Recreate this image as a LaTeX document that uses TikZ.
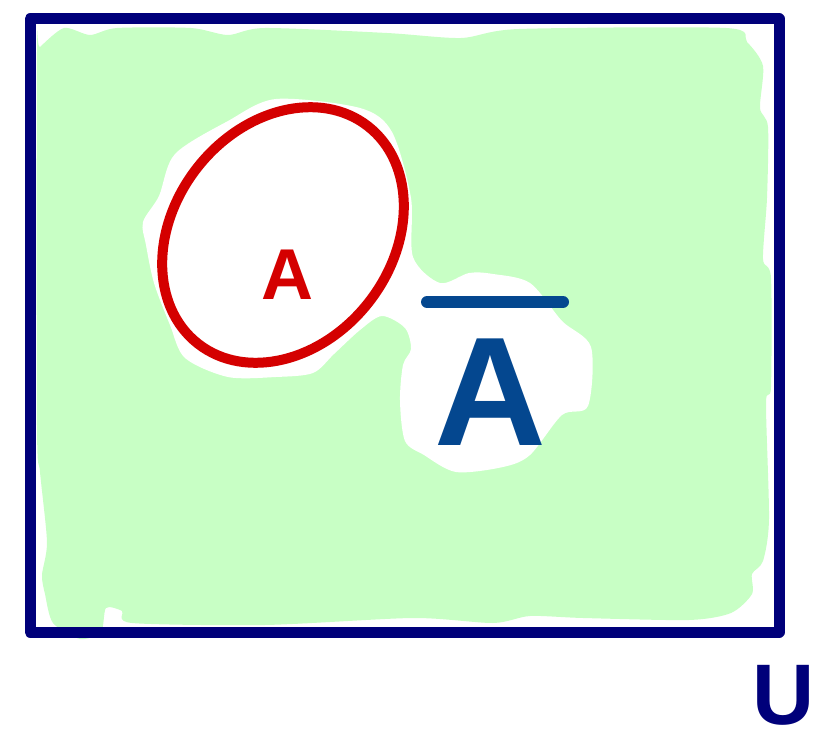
\documentclass[tikz,border=0pt]{standalone}
\usepackage{fontspec}
\setmainfont{Liberation Sans}
\definecolor{framenavy}{RGB}{0,0,122}
\definecolor{setred}{RGB}{212,0,0}
\definecolor{compblue}{RGB}{4,71,143}
\definecolor{paintgreen}{RGB}{200,255,197}
\tikzset{
  framebox/.style={draw=framenavy, line width=11pt, line join=round},
  setcurve/.style={draw=setred, line width=10pt},
  greenpaint/.style={fill=paintgreen, draw=none},
  whitehole/.style={fill=white, draw=none},
  lettertext/.style={inner sep=0pt, anchor=base},
}
\begin{document}
\begin{tikzpicture}[x=1pt,y=-1pt]
\useasboundingbox (0,0) rectangle (831,741);
\fill[white] (0,0) rectangle (831,741);
% green painted region
\path[greenpaint] plot[smooth cycle, tension=0.45] coordinates {
 (40,47) (64,28) (90,35) (117,28) (191,28) (228,35) (265,28) (387,33)
 (461,38) (519,29) (726,28) (747,42) (763,66) (760,108) (768,127)
 (767,198) (763,259) (771,278) (771,387) (766,403) (769,519) (763,561)
 (752,574) (752,594) (731,613) (689,620) (583,618) (530,616) (493,623)
 (413,618) (265,625) (132,623) (122,611) (106,608) (101,632) (80,639)
 (53,623) (45,594) (42,575) (47,542) (40,472) (37,425) (37,52)};
% unpainted region around A and complement label
\path[whitehole] plot[smooth cycle, tension=0.5] coordinates {
 (276,99) (228,121) (175,154) (159,196) (143,222) (146,245) (154,283)
 (170,325) (185,358) (228,377) (276,377) (313,373) (334,354) (360,330)
 (382,316) (405,328) (411,349) (403,365) (400,401) (405,441) (424,455)
 (456,472) (503,467) (530,455) (562,415) (588,406) (591,347) (562,321)
 (530,283) (493,274) (469,273) (440,283) (413,257) (411,198) (392,132)
 (360,108)};
% set A
\path[setcurve] [rotate around={52:(283,235)}] (283,235) ellipse (138pt and 109pt);
\node[lettertext, text=setred, font=\bfseries\fontsize{72}{72}\selectfont] (A) at (287,299) {A};
% complement
\node[lettertext, text=compblue, font=\bfseries\fontsize{155}{155}\selectfont] (Ac) at (490,445) {A};
\coordinate (barL) at (427,302);
\coordinate (barR) at (563,302);
\draw[compblue, line width=12pt, line cap=round] (barL) -- (barR);
% universe
\draw[framebox] (30,19) rectangle (779,632);
\node[inner sep=0pt, anchor=base west, text=framenavy, font=\bfseries\fontsize{86}{86}\selectfont] (U) at (752,724) {U};
\end{tikzpicture}
\end{document}
